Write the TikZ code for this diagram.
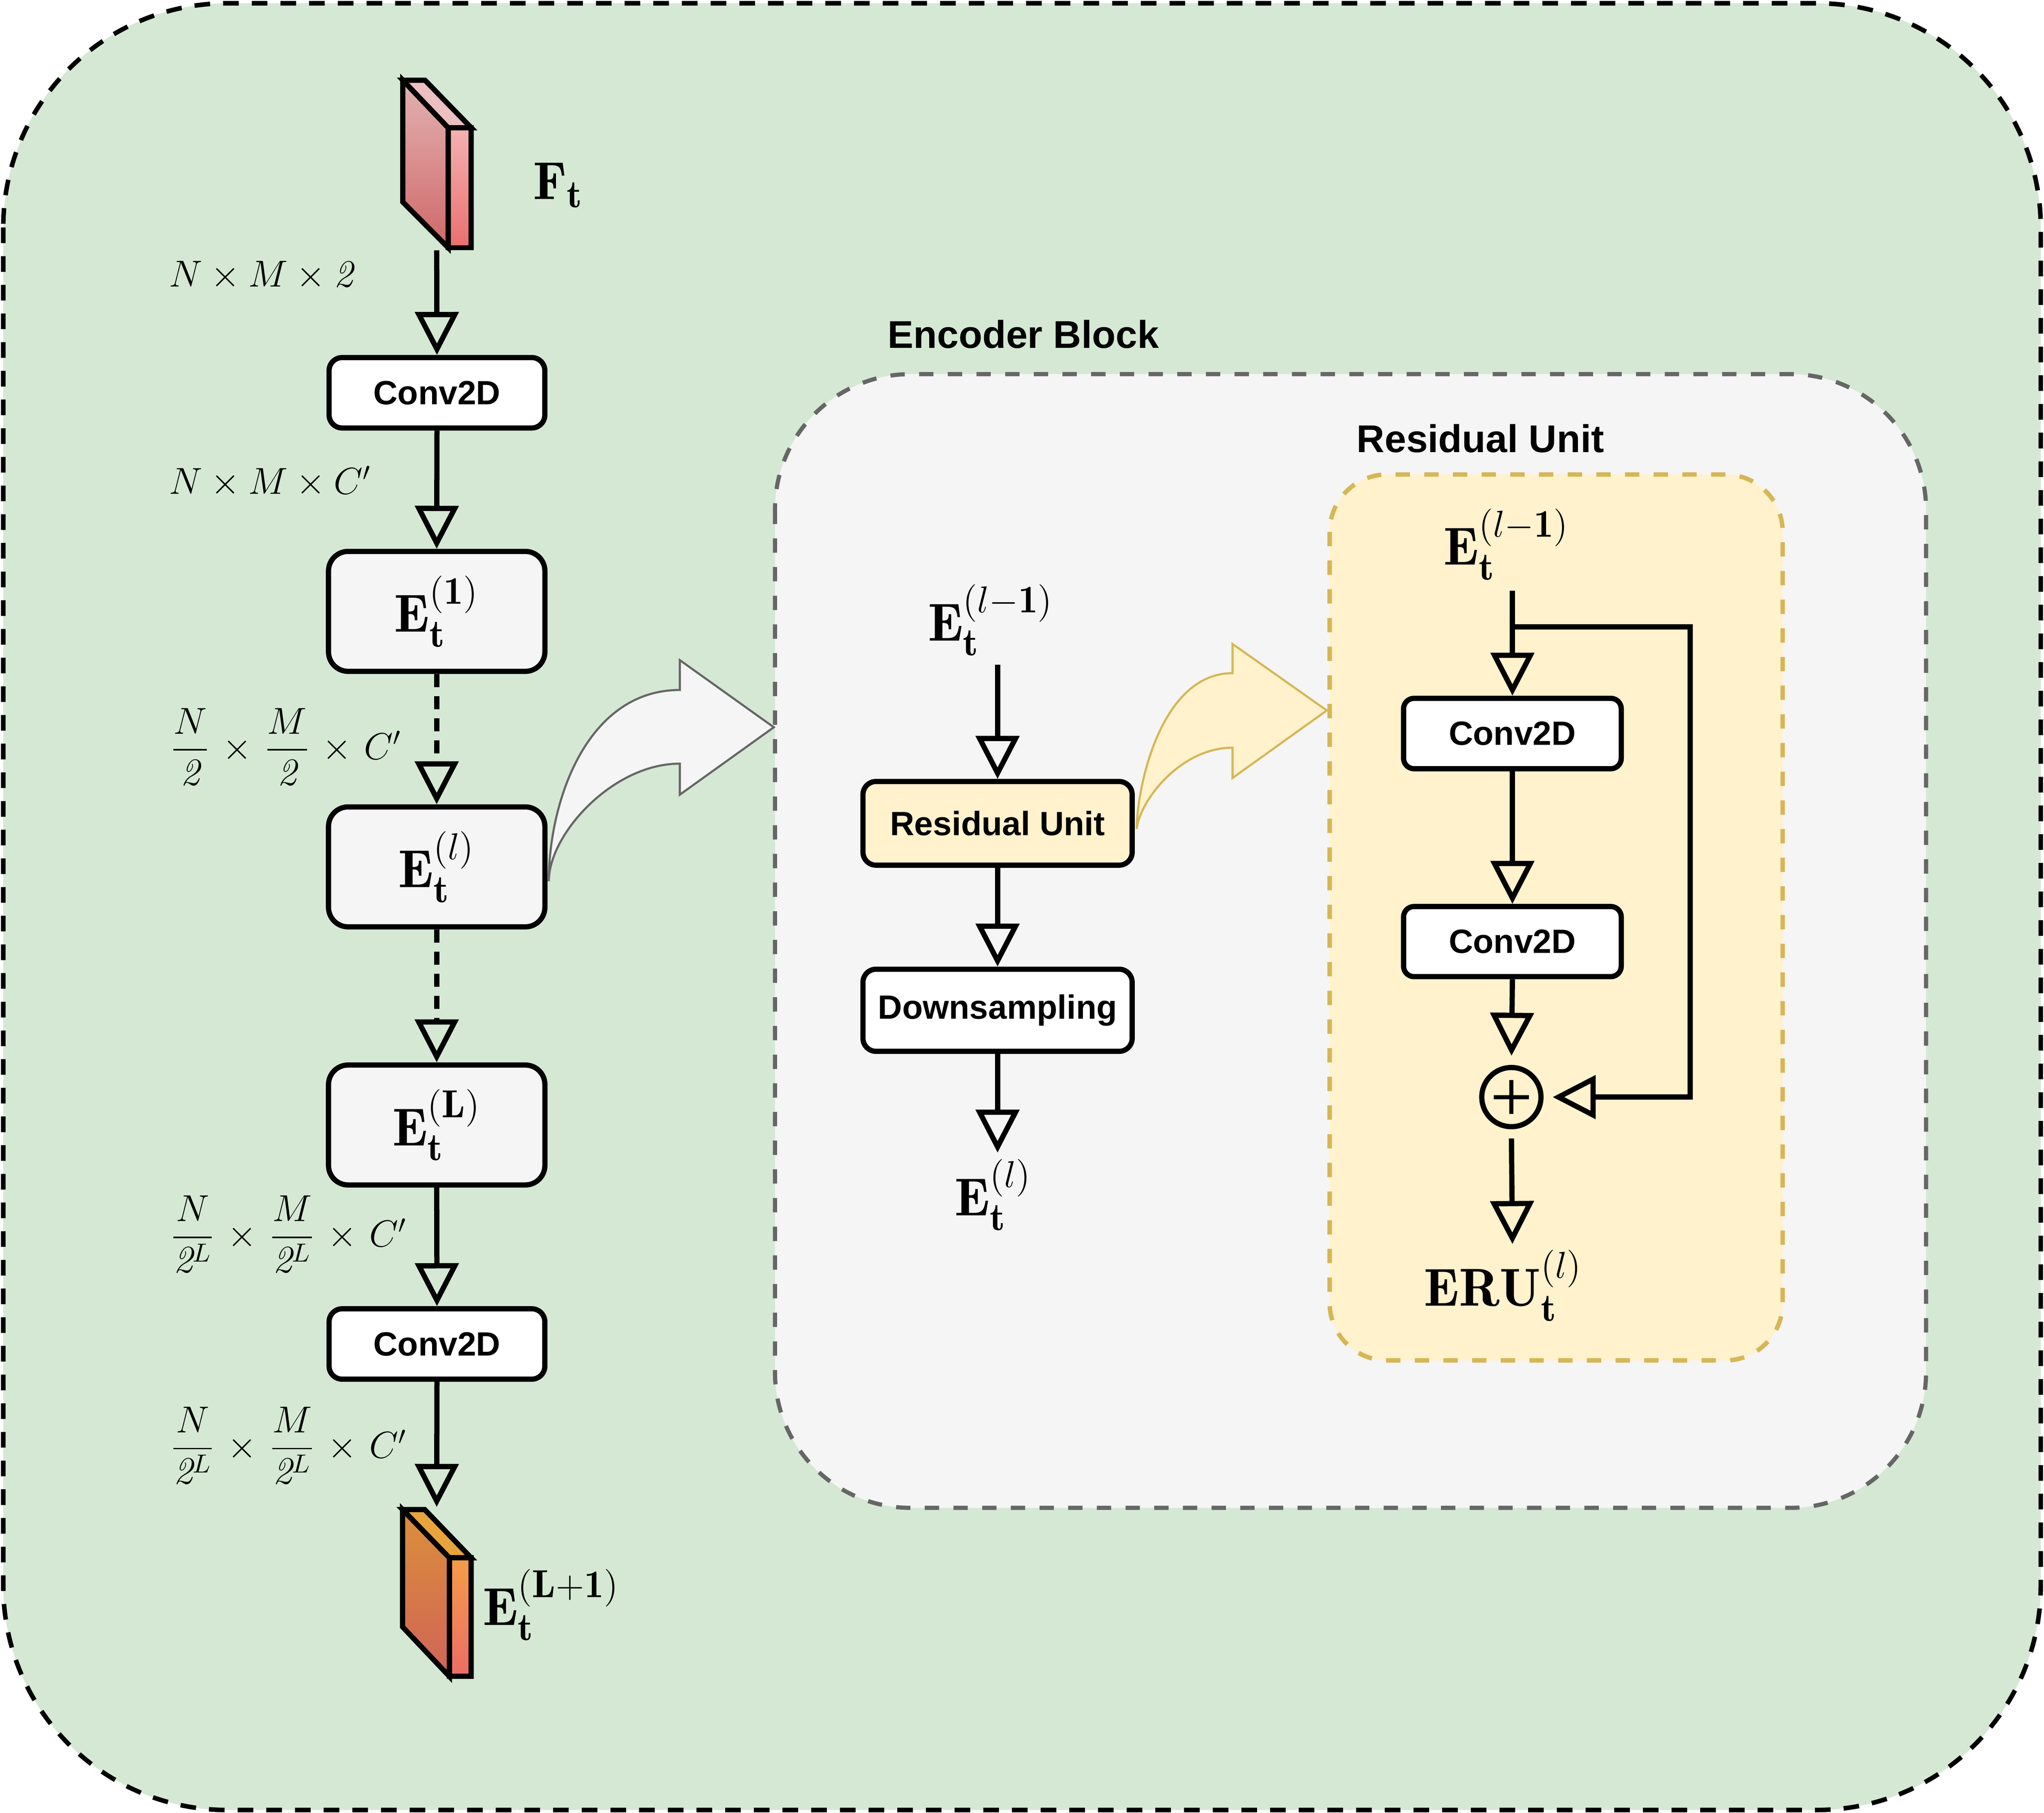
\documentclass[tikz,border=0pt]{standalone}
\usepackage{amsmath}
\usepackage{fontspec}
\newfontfamily\lab{Liberation Sans}
\DeclareMathSizes{20.5}{20.5}{15}{11}
\usetikzlibrary{arrows.meta}
\definecolor{outerG}{HTML}{D5E8D4}
\definecolor{grayF}{HTML}{F5F5F5}
\definecolor{grayS}{HTML}{666666}
\definecolor{yelF}{HTML}{FFF2CC}
\definecolor{yelS}{HTML}{D6B656}
\definecolor{ftTop}{HTML}{ECC0C0}
\definecolor{ftL1}{HTML}{E2B2B2}
\definecolor{ftL2}{HTML}{D06868}
\definecolor{ftR1}{HTML}{F4B2B2}
\definecolor{ftR2}{HTML}{EC6E6E}
\definecolor{efTop}{HTML}{E8A43C}
\definecolor{efL1}{HTML}{DB8F3A}
\definecolor{efL2}{HTML}{D06458}
\definecolor{efR1}{HTML}{F59C48}
\definecolor{efR2}{HTML}{EC6C66}
\newcommand{\tx}{\mathbin{\mkern2mu\times\mkern2mu}}
\begin{document}
\begin{tikzpicture}[x=0.5pt,y=-0.5pt,
  box/.style={draw=black, line width=2pt, rounded corners=5pt, fill=white, inner sep=0pt,
    minimum width=82.75pt, minimum height=27pt, font=\lab\bfseries\fontsize{12.9}{15}\selectfont},
  ebox/.style={draw=black, line width=2pt, rounded corners=7.5pt, fill=grayF, inner sep=0pt,
    minimum width=83pt, minimum height=46pt, font=\fontsize{20.5}{24}\selectfont},
  conn/.style={line width=2pt, -{Triangle[open,length=16.5pt,width=16.5pt]}},
  dconn/.style={conn, dash pattern=on 5pt off 3.5pt},
  dimlab/.style={font=\fontsize{14.8}{18}\selectfont, inner sep=0pt},
  elab/.style={font=\fontsize{20.5}{24}\selectfont, inner sep=0pt},
  ttl/.style={font=\lab\bfseries\fontsize{14.85}{18}\selectfont, inner sep=0pt},
  tface/.style={draw=black, line width=2pt, line join=miter},
]
\useasboundingbox (0,0) rectangle (1568,1390.67);

% containers
\draw[fill=outerG, draw=black, line width=1.75pt, dash pattern=on 6pt off 5pt, rounded corners=86pt]
  (2.5,2.5) rectangle (1565.5,1388.5);
\draw[fill=grayF, draw=grayS, line width=1.6pt, dash pattern=on 5.5pt off 5.5pt, rounded corners=52pt]
  (594.5,287) rectangle (1477.5,1156.7);
\draw[fill=yelF, draw=yelS, line width=1.7pt, dash pattern=on 5.5pt off 5.5pt, rounded corners=22pt]
  (1020,364) rectangle (1367.5,1043.6);

% input tensor F_t
\path[tface, top color=ftL1, bottom color=ftL2] (309,61.5) -- (343.8,98) -- (343.8,190) -- (309,155) -- cycle;
\path[tface, fill=ftTop] (309,61.5) -- (326,61.5) -- (361.5,98) -- (343.8,98) -- cycle;
\path[tface, top color=ftR1, bottom color=ftR2] (343.8,98) -- (361.5,98) -- (361.5,190) -- (343.8,190) -- cycle;
\node[elab, anchor=base west] (ftlab) at (408.6,153) {$\mathbf{F}_{\mathbf{t}}$};

% output tensor
\path[tface, top color=efL1, bottom color=efL2] (308.8,1158) -- (344.7,1195) -- (344.7,1286) -- (308.8,1248) -- cycle;
\path[tface, fill=efTop] (308.8,1158) -- (325.8,1158) -- (361.4,1195) -- (344.7,1195) -- cycle;
\path[tface, top color=efR1, bottom color=efR2] (344.7,1195) -- (361.4,1195) -- (361.4,1286) -- (344.7,1286) -- cycle;
\node[elab, anchor=base west] (outlab) at (370,1246.8) {$\mathbf{E}_{\mathbf{t}}^{(\mathbf{L+1})}$};

% left column
\coordinate (ftb) at (335,192);
\coordinate (eout) at (335,1156);
\node[box] (c1) at (335.2,301.3) {Conv2D};
\node[ebox] (e1) at (335,469) {$\mathbf{E}_{\mathbf{t}}^{(\mathbf{1})}$};
\node[ebox] (el) at (335,665) {$\mathbf{E}_{\mathbf{t}}^{(l)}$};
\node[ebox] (eL) at (335,863) {$\mathbf{E}_{\mathbf{t}}^{(\mathbf{L})}$};
\node[box] (c2) at (335.2,1031) {Conv2D};

\draw[conn] (ftb) -- (c1.north);
\draw[conn] (c1.south) -- (e1.north);
\draw[dconn] (e1.south) -- (el.north);
\draw[dconn] (el.south) -- (eL.north);
\draw[conn] (eL.south) -- (c2.north);
\draw[conn] (c2.south) -- (eout);

\node[dimlab, anchor=base west] (d1) at (129.3,220) {$N\times M\times \mathit{2}$};
\node[dimlab, anchor=base west] (d2) at (129.3,379) {$N\times M\times C'$};
\node[dimlab, anchor=west] (d3) at (130.3,573) {$\dfrac{N}{\mathit{2}}\tx\dfrac{M}{\mathit{2}}\tx C'$};
\node[dimlab, anchor=west] (d4) at (130.3,947) {$\dfrac{N}{\mathit{2}^L}\tx\dfrac{M}{\mathit{2}^L}\tx C'$};
\node[dimlab, anchor=west] (d5) at (130.3,1109) {$\dfrac{N}{\mathit{2}^L}\tx\dfrac{M}{\mathit{2}^L}\tx C'$};

% gray bent arrow
\draw[draw=grayS, fill=grayF, line width=0.8pt]
  (421,676) .. controls (421,615) and (450,529.3) .. (521.5,529.3) -- (521.5,506.4) -- (593.6,557.9)
  -- (521.5,609.6) -- (521.5,585.8) .. controls (470,585.8) and (421,640) .. (421,676) -- cycle;

% encoder block
\node[ttl, anchor=base] (ebt) at (785,267) {Encoder Block};
\node[elab, anchor=base west] (min) at (711.5,491.4) {$\mathbf{E}_{\mathbf{t}}^{(l-\mathbf{1})}$};
\coordinate (mtop) at (765.25,510);
\node[box, fill=yelF, minimum width=103.25pt, minimum height=32.1pt] (ru) at (765.25,631.6) {Residual Unit};
\node[box, minimum width=103.25pt, minimum height=31.5pt] (ds) at (765.25,775) {Downsampling};
\coordinate (mbot) at (765.25,884.2);
\node[elab, anchor=base west] (mout) at (732,932.4) {$\mathbf{E}_{\mathbf{t}}^{(l)}$};
\draw[conn] (mtop) -- (ru.north);
\draw[conn] (ru.south) -- (ds.north);
\draw[conn] (ds.south) -- (mbot);

% yellow bent arrow
\draw[draw=yelS, fill=yelF, line width=0.8pt]
  (872,636) .. controls (872,605) and (890,516.4) .. (945.5,516.4) -- (945.5,494) -- (1017.8,545)
  -- (945.5,596.8) -- (945.5,573.6) .. controls (905,573.6) and (874,615) .. (872,636) -- cycle;

% residual unit
\node[ttl, anchor=base] (rut) at (1135.7,347) {Residual Unit};
\node[elab, anchor=base west] (rin) at (1107,433.3) {$\mathbf{E}_{\mathbf{t}}^{(l-\mathbf{1})}$};
\coordinate (rtop) at (1160.2,453);
\coordinate (br) at (1160.2,480.8);
\coordinate (skipc) at (1296.5,480.8);
\node[box, minimum width=83.5pt, minimum height=27pt, rounded corners=4pt] (ca) at (1160.2,562.7) {Conv2D};
\node[box, minimum width=83.5pt, minimum height=26.9pt, rounded corners=4pt] (cb) at (1160.2,722.3) {Conv2D};
\node[draw=black, circle, line width=2pt, minimum size=22.7pt, inner sep=0pt] (pl) at (1159.4,841.6) {};
\draw[line width=1.6pt] (pl.center) ++(-13.5,0) -- ++(27,0);
\draw[line width=1.6pt] (pl.center) ++(0,-13) -- ++(0,26);
\coordinate (rout) at (1160.2,954.3);
\node[elab, anchor=base west] (eru) at (1092,1001.9) {$\mathbf{ERU}_{\mathbf{t}}^{(l)}$};

\draw[line width=2pt] (rtop) -- (br);
\draw[conn] (br) -- (ca.north);
\draw[conn] (ca.south) -- (cb.north);
\draw[conn, shorten >=3.5pt] (cb.south) -- (pl.north);
\draw[conn, shorten >=3.5pt] (br) -- (skipc) |- (pl.east);
\draw[conn, shorten <=3.5pt] (pl.south) -- (rout);
\end{tikzpicture}
\end{document}
